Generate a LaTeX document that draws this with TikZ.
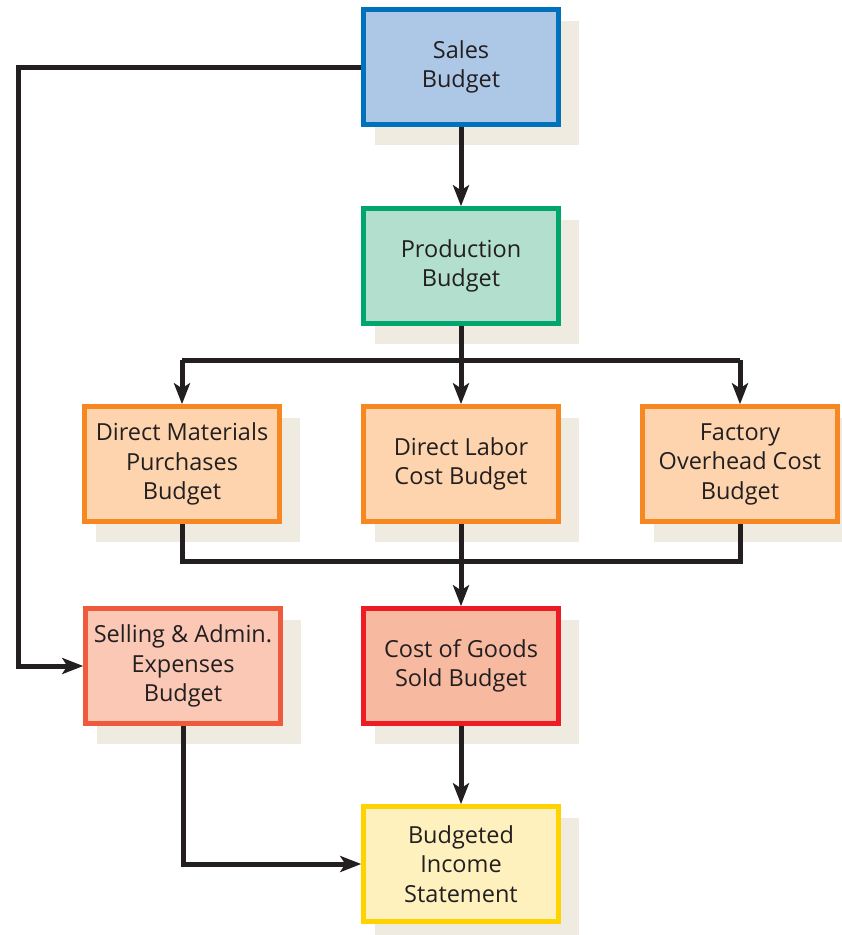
\documentclass[tikz,border=0pt]{standalone}
\usepackage{fontspec}
\setmainfont{Open Sans}
\usetikzlibrary{arrows.meta,backgrounds,calc}
\definecolor{ink}{RGB}{35,31,32}
\definecolor{shc}{RGB}{239,235,225}
\definecolor{bluef}{RGB}{173,200,230}\definecolor{blued}{RGB}{0,114,188}
\definecolor{greenf}{RGB}{178,223,206}\definecolor{greend}{RGB}{0,166,110}
\definecolor{orf}{RGB}{253,212,174}\definecolor{ord}{RGB}{247,135,33}
\definecolor{self}{RGB}{250,200,180}\definecolor{seld}{RGB}{240,90,60}
\definecolor{redf}{RGB}{247,185,160}\definecolor{redd}{RGB}{237,28,36}
\definecolor{yelf}{RGB}{255,241,190}\definecolor{yeld}{RGB}{255,210,0}
\tikzset{
  budgetbox/.style={rectangle, line width=4.5pt, minimum width=195pt, minimum height=115pt,
    align=center, text=ink, font=\fontsize{23.5}{29.5}\selectfont, inner sep=0pt},
  conn/.style={draw=ink, line width=5pt},
  arr/.style={conn, -{Stealth[length=21pt,width=16pt,inset=5pt]}},
}
\newcommand{\shadowof}[1]{\fill[shc] ($(#1.south west)+(14,-18)$) rectangle ($(#1.north east)+(18,-14)$);}
\begin{document}
\begin{tikzpicture}[x=1pt,y=1pt]
\useasboundingbox (0,0) rectangle (842,-935);
\node[budgetbox, draw=blued, fill=bluef] (sales) at (461,-67) {Sales\\Budget};
\node[budgetbox, draw=greend, fill=greenf] (prod) at (461,-266) {Production\\Budget};
\node[budgetbox, draw=ord, fill=orf] (dm) at (182,-464) {Direct Materials\\Purchases\\Budget};
\node[budgetbox, draw=ord, fill=orf] (dl) at (461,-464) {Direct Labor\\Cost Budget};
\node[budgetbox, draw=ord, fill=orf] (fo) at (740,-464) {Factory\\Overhead Cost\\Budget};
\node[budgetbox, draw=seld, fill=self] (sell) at (183,-666) {Selling \& Admin.\\Expenses\\Budget};
\node[budgetbox, draw=redd, fill=redf] (cogs) at (461,-666) {Cost of Goods\\Sold Budget};
\node[budgetbox, draw=yeld, fill=yelf] (bi) at (461,-864) {Budgeted\\Income\\Statement};
\coordinate (split) at (461,-360);
\coordinate (splitl) at (182,-360);
\coordinate (splitr) at (740,-360);
\coordinate (mergel) at (182,-561);
\coordinate (leftc) at (18,-67);
\begin{pgfonlayer}{background}
\shadowof{sales}\shadowof{prod}\shadowof{dm}\shadowof{dl}\shadowof{fo}\shadowof{sell}\shadowof{cogs}\shadowof{bi}
\draw[arr] (sales.south) -- (prod.north);
\draw[conn] (prod.south) -- (split);
\draw[conn] (splitl) -- (splitr);
\draw[arr] (splitl) -- (dm.north);
\draw[arr] (split) -- (dl.north);
\draw[arr] (splitr) -- (fo.north);
\draw[conn] (dm.south) -- (mergel) -| (fo.south);
\draw[arr] (dl.south) -- (cogs.north);
\draw[arr] (cogs.south) -- (bi.north);
\draw[arr] (sales.west) -- (leftc) |- (sell.west);
\draw[arr] (sell.south) |- (bi.west);
\end{pgfonlayer}
\end{tikzpicture}
\end{document}
